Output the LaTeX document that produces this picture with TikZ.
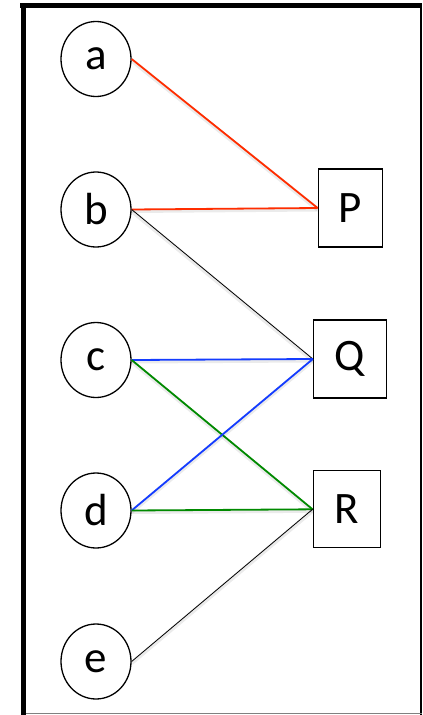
\documentclass[tikz,border=0pt]{standalone}
\usepackage{fontspec}
\setmainfont{Carlito}
\usetikzlibrary{shapes.geometric}
\definecolor{linkred}{RGB}{255,45,0}
\definecolor{linkblue}{RGB}{20,60,255}
\definecolor{linkgreen}{RGB}{0,138,0}
\begin{document}
\begin{tikzpicture}[x=1pt,y=1pt,
  vertex/.style={ellipse,draw,line width=1.3pt,minimum width=70pt,minimum height=75pt,inner sep=0pt,font=\fontsize{45}{50}\selectfont},
  target/.style={rectangle,draw,line width=1.3pt,inner sep=0pt,font=\fontsize{45}{50}\selectfont},
  link/.style={line width=1.8pt},
  thin link/.style={line width=0.8pt},
  shadowed/.style={preaction={draw=black,opacity=0.08,line width=4pt,transform canvas={yshift=-1.5pt}}}]
\useasboundingbox (0,0) rectangle (423,-715);
\fill[white] (0,0) rectangle (423,-715);
% frame
\fill[black] (20,-3.3) rectangle (422,-8.3);
\fill[black] (20.5,-3.3) rectangle (26,-715);
\fill[black] (419.8,-3.3) rectangle (421.6,-715);
\fill[gray] (26,-712.6) rectangle (421.6,-714);
% left column
\node[vertex] (a) at (96,-59) {a};
\node[vertex] (b) at (96,-209.5) {b};
\node[vertex] (c) at (96,-360) {c};
\node[vertex] (d) at (96,-510.5) {d};
\node[vertex] (e) at (96,-661.5) {e};
% right column
\node[target,minimum width=64pt,minimum height=78pt] (P) at (350.3,-208) {P};
\node[target,minimum width=73pt,minimum height=78pt] (Q) at (350,-359) {Q};
\node[target,minimum width=67pt,minimum height=77pt] (R) at (346.7,-509.3) {R};
% connections
\draw[link,linkred,shadowed] (a.east) -- (P.west);
\draw[link,linkred,shadowed] (b.east) -- (P.west);
\draw[thin link,shadowed] (b.east) -- (Q.west);
\draw[link,linkblue,shadowed] (c.east) -- (Q.west);
\draw[link,linkgreen,shadowed] (c.east) -- (R.west);
\draw[link,linkblue,shadowed] (d.east) -- (Q.west);
\draw[link,linkgreen,shadowed] (d.east) -- (R.west);
\draw[thin link,shadowed] (e.east) -- (R.west);
\end{tikzpicture}
\end{document}
